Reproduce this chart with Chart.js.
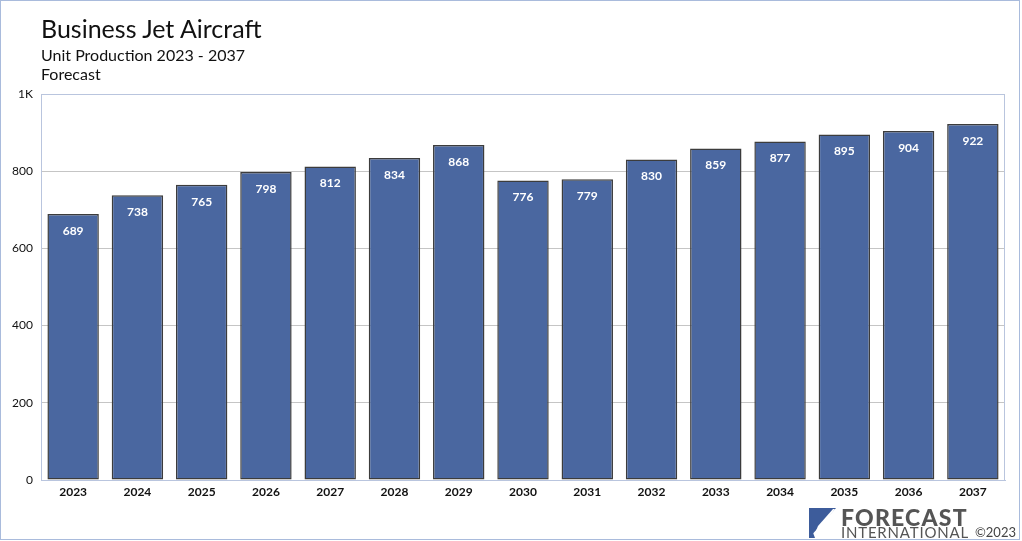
<!DOCTYPE html>
<html>
<head>
<meta charset="utf-8">
<script src="https://cdn.jsdelivr.net/npm/chart.js@4.4.0/dist/chart.umd.min.js"></script>
<style>
    html, body { margin: 0; padding: 0; background: #fff; }
    #wrap { position: relative; width: 1022px; height: 541px; overflow: hidden; font-family: Lato, sans-serif; }
    #frame { position: absolute; left: 0; top: 0; width: 1020px; height: 540px; box-sizing: border-box; border: 1px solid #a9bbdc; pointer-events: none; }
    canvas { position: absolute; left: 0; top: 0; }
    .title { position: absolute; left: 41px; top: 13px; font-size: 25px; color: #111; }
    .sub { position: absolute; left: 41px; font-size: 16px; color: #111; }
    #logo { position: absolute; left: 809px; top: 508px; }
    .fc { position: absolute; left: 841px; top: 503px; font-size: 23px; font-weight: 900; color: #555; letter-spacing: 1.2px; }
    .intl { position: absolute; left: 841px; top: 523px; font-size: 15px; color: #555; letter-spacing: 0.8px; }
    .copy { position: absolute; left: 975px; top: 524px; font-size: 13px; color: #444; }
</style>
</head>
<body>
<div id="wrap">
    <canvas id="chart" width="1022" height="541"></canvas>
    <div class="title">Business Jet Aircraft</div>
    <div class="sub" style="top:45px">Unit Production 2023 - 2037</div>
    <div class="sub" style="top:64px">Forecast</div>
    <svg id="logo" width="28" height="30" viewBox="0 0 28 30">
        <polygon points="0,0 27,0 0,30" fill="#3d5c9b"/>
        <polygon points="4,30 26,1 24,1 9,18" fill="#fff"/>
        <polygon points="0,14 0,30 6,30" fill="#3d5c9b"/>
    </svg>
    <div class="fc">FORECAST</div>
    <div class="intl">INTERNATIONAL</div>
    <div class="copy">©2023</div>
    <div id="frame"></div>
</div>
<script>
// ===== 데이터 =====
const years = ['2023', '2024', '2025', '2026', '2027', '2028', '2029', '2030',
    '2031', '2032', '2033', '2034', '2035', '2036', '2037'];
const units = [689, 738, 765, 798, 812, 834, 868, 776, 779, 830, 859, 877, 895, 904, 922];
const yTicks = [0, 200, 400, 600, 800, 1000];

// bar value labels, white, inside top of bar
const barLabels = {
    id: 'barLabels',
    afterDatasetsDraw(chart) {
        const ctx = chart.ctx;
        const meta = chart.getDatasetMeta(0);
        ctx.save();
        ctx.fillStyle = '#fff';
        ctx.font = 'bold 12px Lato';
        ctx.textAlign = 'center';
        ctx.textBaseline = 'middle';
        meta.data.forEach((bar, i) => {
            ctx.fillText(units[i], bar.x, bar.y + 17);
        });
        ctx.restore();
    }
};

// plot frame (top / right / left)
const plotFrame = {
    id: 'plotFrame',
    afterDraw(chart) {
        const a = chart.chartArea;
        const ctx = chart.ctx;
        ctx.save();
        ctx.strokeStyle = '#b9c5de';
        ctx.lineWidth = 1;
        ctx.beginPath();
        ctx.moveTo(a.left + 0.5, a.bottom);
        ctx.lineTo(a.left + 0.5, a.top + 0.5);
        ctx.lineTo(a.right - 0.5, a.top + 0.5);
        ctx.lineTo(a.right - 0.5, a.bottom);
        ctx.stroke();
        ctx.restore();
    }
};

new Chart(document.getElementById('chart'), {
    type: 'bar',
    data: {
        labels: years,
        datasets: [{
            data: units,
            backgroundColor: '#4a67a0',
            borderColor: '#3c3c3c',
            borderWidth: 1.5,
            borderSkipped: false,
            categoryPercentage: 1,
            barPercentage: 0.8,
        }]
    },
    options: {
        responsive: false,
        animation: false,
        devicePixelRatio: 1,
        layout: { padding: { left: 0, top: 94, right: 17, bottom: 0 } },
        scales: {
            x: {
                afterFit: s => { s.height = 61; },
                grid: { display: false, drawTicks: false, tickLength: 0 },
                border: { color: '#b9c5de' },
                ticks: { color: '#111', font: { family: 'Lato', size: 12, weight: 'bold' }, padding: 5 },
            },
            y: {
                min: 0,
                max: 1000,
                z: 1,
                afterFit: s => { s.width = 41; },
                afterBuildTicks: s => { s.ticks = yTicks.map(v => ({ value: v })); },
                grid: { color: 'rgba(150,150,150,0.55)', drawTicks: false },
                border: { display: false },
                ticks: {
                    color: '#111',
                    padding: 8,
                    font: { family: 'Lato', size: 12 },
                    callback: v => v === 1000 ? '1K' : v,
                },
            }
        },
        plugins: {
            legend: { display: false },
            tooltip: { enabled: false },
        }
    },
    plugins: [barLabels, plotFrame]
});
</script>
</body>
</html>
